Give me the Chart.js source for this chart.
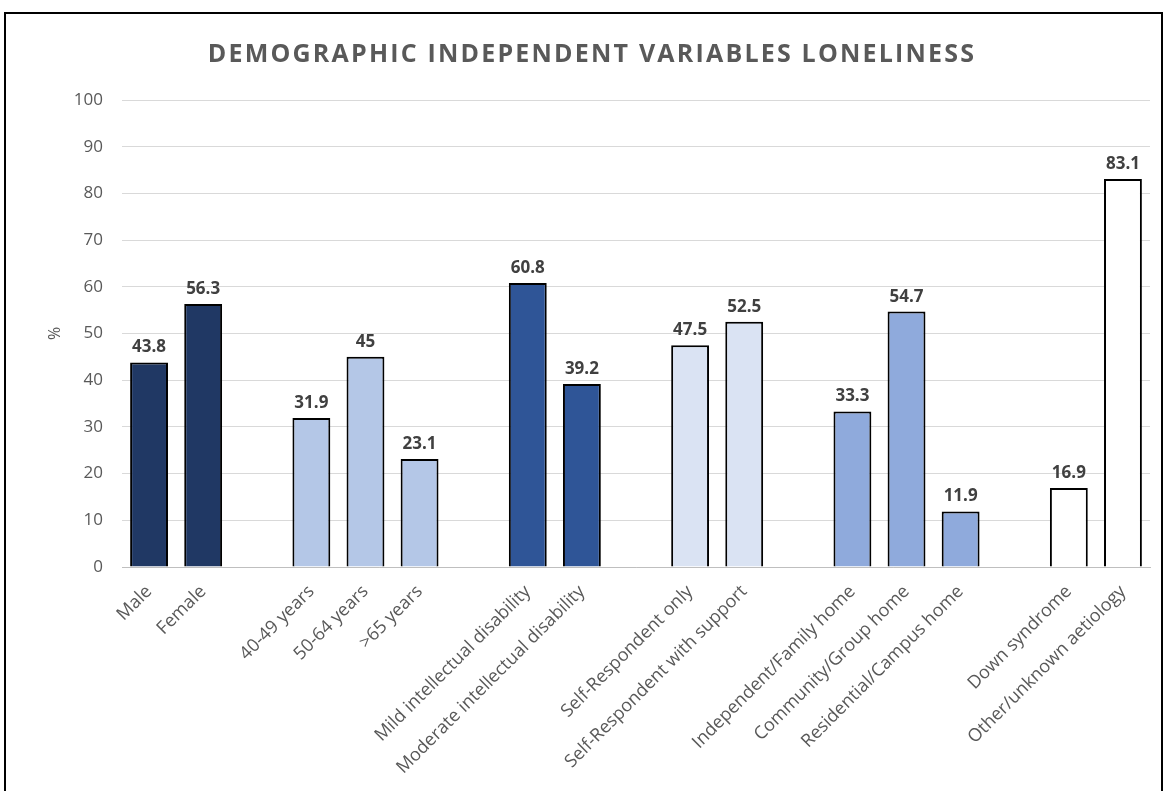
<!DOCTYPE html>
<html>
<head>
<meta charset="utf-8">
<script src="https://cdn.jsdelivr.net/npm/chart.js@4"></script>
<style>
  body { margin: 0; background: #fff; }
  #wrap { position: relative; width: 1168px; height: 791px; overflow: hidden; }
  #frame { position: absolute; left: 4px; top: 12px; width: 1159px; height: 800px; border: 2px solid #000; box-sizing: border-box; pointer-events: none; }
</style>
</head>
<body>
<div id="wrap">
  <canvas id="myChart" width="1168" height="791"></canvas>
  <div id="frame"></div>
</div>
<script>
// categories, with '' slots as gaps between groups
const labels = ['Male', 'Female', '',
  '40-49 years', '50-64 years', '>65 years', '',
  'Mild intellectual disability', 'Moderate intellectual disability', '',
  'Self-Respondent only', 'Self-Respondent with support', '',
  'Independent/Family home', 'Community/Group home', 'Residential/Campus home', '',
  'Down syndrome', 'Other/unknown aetiology'];

const values = [43.8, 56.3, null,
  31.9, 45, 23.1, null,
  60.8, 39.2, null,
  47.5, 52.5, null,
  33.3, 54.7, 11.9, null,
  16.9, 83.1];

const barColors = ['#203864', '#203864', null,
  '#B4C7E7', '#B4C7E7', '#B4C7E7', null,
  '#2F5597', '#2F5597', null,
  '#DAE3F3', '#DAE3F3', null,
  '#8FAADC', '#8FAADC', '#8FAADC', null,
  '#FFFFFF', '#FFFFFF'];

const yTicks = [0, 10, 20, 30, 40, 50, 60, 70, 80, 90, 100];

const titleText = 'DEMOGRAPHIC INDEPENDENT VARIABLES LONELINESS';

// title with letter spacing, drawn by hand since the title plugin has no spacing option
const spacedTitle = {
  id: 'spacedTitle',
  afterDraw: function(chart) {
    const ctx = chart.ctx;
    ctx.save();
    ctx.font = 'bold 25px "Open Sans"';
    ctx.letterSpacing = '2.2px';
    ctx.fillStyle = '#595959';
    ctx.textAlign = 'center';
    ctx.textBaseline = 'alphabetic';
    ctx.fillText(titleText, 592, 62);
    ctx.restore();
  }
};

// draws the value above each bar
const valueLabels = {
  id: 'valueLabels',
  afterDatasetsDraw: function(chart) {
    const ctx = chart.ctx;
    const meta = chart.getDatasetMeta(0);
    ctx.save();
    ctx.font = 'bold 17px "Open Sans"';
    ctx.fillStyle = '#404040';
    ctx.textAlign = 'center';
    ctx.textBaseline = 'alphabetic';
    meta.data.forEach(function(bar, i) {
      if (values[i] == null) return;
      ctx.fillText(String(values[i]), bar.x, bar.y - 10);
    });
    ctx.restore();
  }
};

const chart = new Chart(document.getElementById('myChart'), {
  type: 'bar',
  data: {
    labels: labels,
    datasets: [{
      data: values,
      backgroundColor: barColors,
      borderColor: '#000000',
      borderWidth: 2,
      barPercentage: 0.7,
      categoryPercentage: 1.0
    }]
  },
  options: {
    responsive: false,
    animation: false,
    layout: { padding: { left: 46, right: 18, top: 100, bottom: 0 } },
    plugins: {
      legend: { display: false },
      tooltip: { enabled: false },
      title: { display: false }
    },
    scales: {
      x: {
        grid: { display: false },
        border: { color: '#BFBFBF', width: 1 },
        ticks: {
          color: '#595959',
          font: { family: '"Open Sans"', size: 18 },
          minRotation: 45,
          maxRotation: 45,
          autoSkip: false,
          padding: 6
        },
        afterFit: function(s) { s.height = 224; }
      },
      y: {
        min: 0,
        max: 100,
        afterBuildTicks: function(s) { s.ticks = yTicks.map(v => ({ value: v })); },
        grid: { color: '#D9D9D9', lineWidth: 1, drawTicks: false },
        border: { display: false },
        ticks: {
          color: '#595959',
          font: { family: '"Open Sans"', size: 17 },
          padding: 19
        },
        title: {
          display: true,
          text: '%',
          color: '#595959',
          font: { family: '"Open Sans"', size: 16 },
          padding: 0
        },
        afterFit: function(s) { s.width = 76; }
      }
    }
  },
  plugins: [spacedTitle, valueLabels]
});
</script>
</body>
</html>
